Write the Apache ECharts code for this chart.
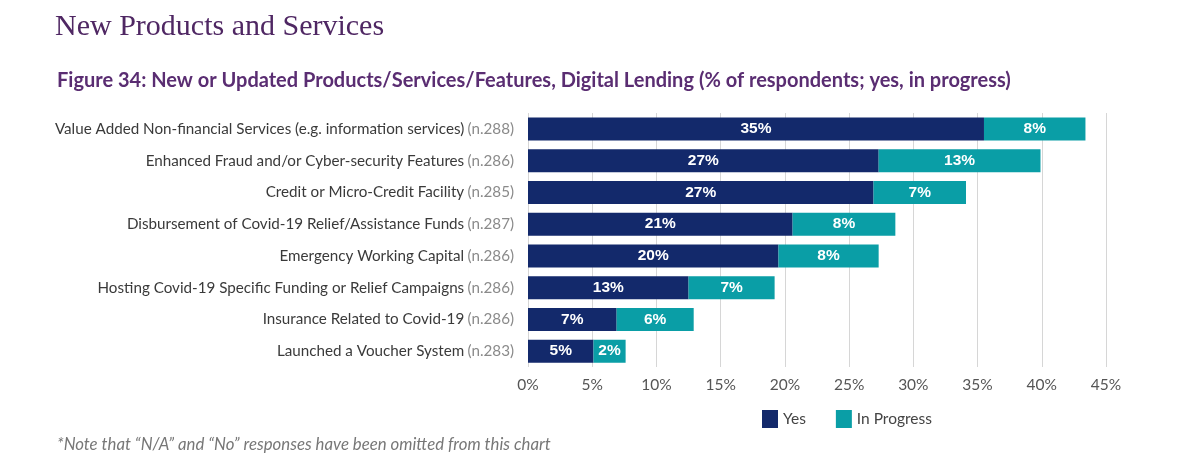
<!DOCTYPE html>
<html>
<head>
<meta charset="UTF-8" />
<title>New Products and Services</title>
<script src="https://cdn.jsdelivr.net/npm/echarts@6/dist/echarts.min.js"></script>
<style>
html, body { margin: 0; padding: 0; background: #fff; }
</style>
</head>
<body>
<div id="chart" style="width: 1200px; height: 469px;"></div>
<script>
// data
var categories = [
  "Value Added Non-financial Services (e.g. information services)",
  "Enhanced Fraud and/or Cyber-security Features",
  "Credit or Micro-Credit Facility",
  "Disbursement of Covid-19 Relief/Assistance Funds",
  "Emergency Working Capital",
  "Hosting Covid-19 Specific Funding or Relief Campaigns",
  "Insurance Related to Covid-19",
  "Launched a Voucher System"
];
var sampleSizes = ["n.288", "n.286", "n.285", "n.287", "n.286", "n.286", "n.286", "n.283"];
var yesValues = [35.5, 27.3, 26.9, 20.6, 19.5, 12.5, 6.9, 5.1];
var progressValues = [7.9, 12.6, 7.2, 8.0, 7.8, 6.7, 6.0, 2.5];
var yesLabels = ["35%", "27%", "27%", "21%", "20%", "13%", "7%", "5%"];
var progressLabels = ["8%", "13%", "7%", "8%", "8%", "7%", "6%", "2%"];
var seriesNames = ["Yes", "In Progress"];

var myChart = echarts.init(document.getElementById("chart"));

var barLabel = function (labels) {
  return {
    show: true,
    position: "inside",
    color: "#fff",
    fontFamily: "Liberation Sans",
    fontWeight: "bold",
    fontSize: 15.5,
    formatter: function (p) { return labels[p.dataIndex]; }
  };
};

var option = {
  backgroundColor: "#fff",
  title: [
    {
      text: "New Products and Services",
      left: 50,
      top: 7,
      textStyle: { fontFamily: "Liberation Serif", fontSize: 30, fontWeight: "normal", color: "#4f2763" }
    },
    {
      text: "{b|Figure 34: New or Updated Products/Services/Features, Digital Lending} {n|(% of respondents; yes, in progress)}",
      left: 52,
      top: 66,
      textStyle: {
        rich: {
          b: { fontFamily: "Lato", fontWeight: "bold", fontSize: 20, color: "#5a2d72" },
          n: { fontFamily: "Lato", fontSize: 20, color: "#5a2d72" }
        }
      }
    },
    {
      text: "*Note that \u201cN/A\u201d and \u201cNo\u201d responses have been omitted from this chart",
      left: 52,
      top: 431,
      textStyle: { fontFamily: "Lato", fontStyle: "italic", fontSize: 16.8, fontWeight: "normal", color: "#777" }
    }
  ],
  legend: {
    data: seriesNames,
    left: 757,
    top: 405,
    itemWidth: 16,
    itemHeight: 18,
    itemGap: 30,
    icon: "rect",
    textStyle: { fontFamily: "Lato", fontSize: 15.5, color: "#444" }
  },
  grid: { left: 528, right: 94, top: 113, bottom: 102 },
  xAxis: {
    type: "value",
    min: 0,
    max: 45,
    interval: 5,
    axisLine: { show: false },
    axisTick: { show: false },
    splitLine: { lineStyle: { color: "#d6d6d6", width: 1 } },
    axisLabel: { formatter: "{value}%", fontFamily: "Lato", fontSize: 15.5, color: "#555", margin: 10 }
  },
  yAxis: {
    type: "category",
    inverse: true,
    data: categories,
    axisLine: { show: false },
    axisTick: { show: false },
    axisLabel: {
      margin: 14,
      formatter: function (v, i) { return "{a|" + v + "} {n|(" + sampleSizes[i] + ")}"; },
      rich: {
        a: { fontFamily: "Lato", fontSize: 15.2, color: "#3a3a3a" },
        n: { fontFamily: "Lato", fontSize: 15.2, color: "#8a8a8a" }
      }
    }
  },
  series: [
    {
      name: seriesNames[0],
      type: "bar",
      stack: "total",
      barWidth: 23,
      itemStyle: { color: "#13296b" },
      label: barLabel(yesLabels),
      data: yesValues
    },
    {
      name: seriesNames[1],
      type: "bar",
      stack: "total",
      barWidth: 23,
      itemStyle: { color: "#0a9ea6" },
      label: barLabel(progressLabels),
      data: progressValues
    }
  ]
};

myChart.setOption(option);
</script>
</body>
</html>
